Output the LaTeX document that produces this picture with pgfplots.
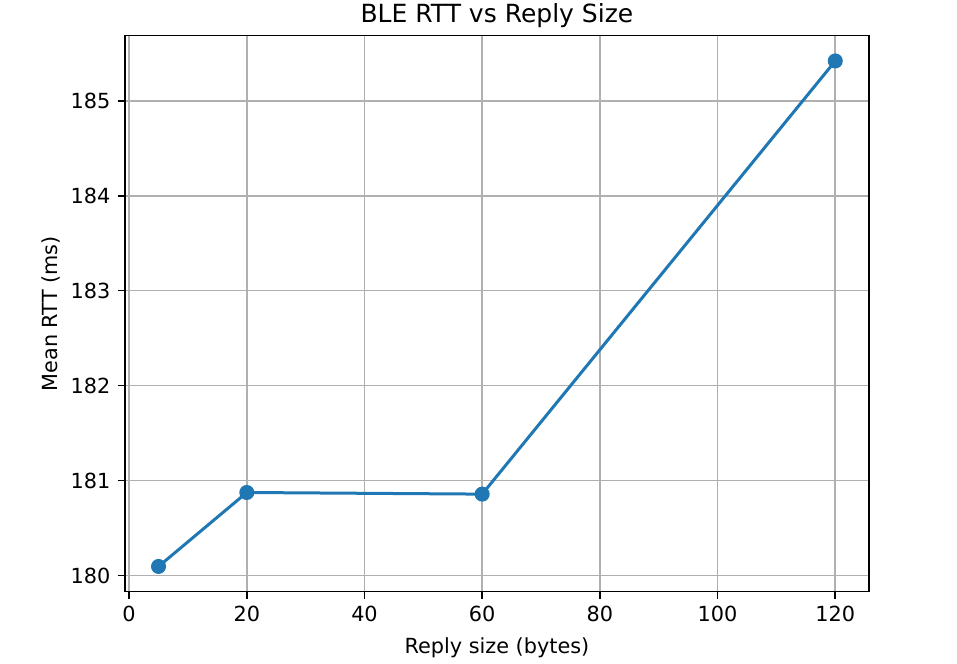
\documentclass[border=0pt]{standalone}
\usepackage{pgfplots}
\pgfplotsset{compat=1.18}
\usepackage{fontspec}
\setmainfont{DejaVu Sans}
\definecolor{mplblue}{HTML}{1F77B4}
\definecolor{mplgrid}{HTML}{B0B0B0}
\begin{document}
\fontsize{10.4pt}{12pt}\selectfont
\begin{tikzpicture}
\useasboundingbox (0,0) rectangle (478.5pt,331.5pt);
\begin{axis}[
  at={(62.35pt,35.65pt)}, anchor=south west,
  scale only axis, width=372.2pt, height=278pt,
  xmin=-0.75, xmax=125.75, ymin=179.829, ymax=185.686,
  xtick={0,20,40,60,80,100,120},
  ytick={180,181,182,183,184,185},
  /pgf/number format/assume math mode=true,
  yticklabel style={/pgf/number format/.cd,fixed,precision=0},
  tick label style={font=\fontsize{10.4pt}{12pt}\selectfont},
  label style={font=\fontsize{10.4pt}{12pt}\selectfont},
  title style={font=\fontsize{12.5pt}{14pt}\selectfont},
  grid=major,
  major grid style={line width=0.8pt, color=mplgrid},
  axis line style={line width=0.8pt, black},
  tick style={line width=0.8pt, black},
  tick align=outside,
  major tick length=3.5pt,
  xtick pos=bottom, ytick pos=left,
  xlabel={Reply size (bytes)},
  ylabel={Mean RTT (ms)},
  title={BLE RTT vs Reply Size},
  xlabel style={yshift=-1pt},
  ylabel style={yshift=-2pt},
  title style={yshift=-5.5pt},
]
\addplot[color=mplblue, line width=1.5pt, mark=*, mark size=3pt, mark options={fill=mplblue, draw=mplblue}]
  coordinates {(5,180.095) (20,180.874) (60,180.857) (120,185.420)};
\end{axis}
\end{tikzpicture}
\end{document}
